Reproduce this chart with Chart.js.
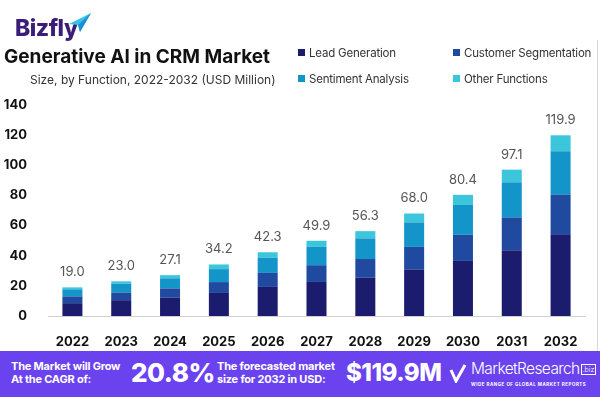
<!DOCTYPE html>
<html>
<head>
<meta charset="utf-8">
<script src="https://cdn.jsdelivr.net/npm/chart.js@4"></script>
<style>
  body { margin: 0; width: 600px; height: 400px; position: relative; overflow: hidden; background: #fff; font-family: Inter, sans-serif; }
  #wrap { position: absolute; left: 0; top: 0; width: 600px; height: 400px; }
  .abs { position: absolute; white-space: nowrap; }
  #logo { left: 15px; top: 14px; font-size: 23px; font-weight: 800; color: #3a1d7a; letter-spacing: -0.5px; }
  #title { left: 4px; top: 45px; font-size: 19px; font-weight: 700; color: #111; letter-spacing: 0px; }
  #sub { left: 30px; top: 72px; font-size: 12px; color: #333; }
  .leg { font-size: 11.5px; color: #333; letter-spacing: -0.2px; }
  .leg i { display: inline-block; width: 7px; height: 7px; margin-right: 4px; vertical-align: 1px; }
  #vline { left: 597px; top: 40px; width: 1px; height: 311px; background: #d6d6d6; }
  #banner { left: 0; top: 351px; width: 600px; height: 46px; background: #6a43ef; color: #fff; }
  .small { font-size: 11px; font-weight: 700; line-height: 13px; letter-spacing: -0.2px; }
  .big { font-weight: 800; letter-spacing: -0.5px; }
</style>
</head>
<body>
<div id="wrap"><canvas id="chart" width="600" height="400"></canvas></div>

<div class="abs" id="logo">Bizfly</div>
<svg class="abs" style="left:68px;top:12px" width="24" height="22" viewBox="0 0 24 22">
  <polygon points="1,12 23,1 12,20 10,13" fill="#35c3e8"/>
  <polygon points="10,13 23,1 12,20" fill="#1d8fd6"/>
</svg>
<div class="abs" id="title">Generative AI in CRM Market</div>
<div class="abs" id="sub">Size, by Function, 2022-2032 (USD Million)</div>

<div class="abs leg" style="left:298px;top:46px"><i style="background:#1b1c6e"></i>Lead Generation</div>
<div class="abs leg" style="left:453px;top:46px"><i style="background:#1f4a9f"></i>Customer Segmentation</div>
<div class="abs leg" style="left:298px;top:72px"><i style="background:#1495c9"></i>Sentiment Analysis</div>
<div class="abs leg" style="left:453px;top:72px"><i style="background:#3cc6dc"></i>Other Functions</div>
<div class="abs" id="vline"></div>

<div class="abs" id="banner">
  <div class="abs small" style="left:11px;top:9px">The Market will Grow<br>At the CAGR of:</div>
  <div class="abs big" style="left:131px;top:6px;font-size:26px">20.8%</div>
  <div class="abs small" style="left:217px;top:9px">The forecasted market<br>size for 2032 in USD:</div>
  <div class="abs big" style="left:346px;top:7px;font-size:24px">$119.9M</div>
  <svg class="abs" style="left:449px;top:12px" width="18" height="20" viewBox="0 0 18 20">
    <polyline points="2,7 7,18 16,2" fill="none" stroke="#fff" stroke-width="3"/>
  </svg>
  <div class="abs" style="left:471px;top:8px;font-size:15.5px;font-weight:300;letter-spacing:-0.6px">MarketResearch<span style="font-size:7px;border:1px solid #fff;padding:0 1px;margin-left:1px;vertical-align:2px;letter-spacing:0">.biz</span></div>
  <div class="abs" style="left:471px;top:31px;font-size:4.5px;font-weight:700;letter-spacing:0.5px">WIDE RANGE OF GLOBAL MARKET REPORTS</div>
</div>

<script>
const years = ["2022", "2023", "2024", "2025", "2026", "2027", "2028", "2029", "2030", "2031", "2032"];
const leadGeneration = [8.5, 10.5, 12.3, 15.3, 19.3, 22.6, 25.4, 30.8, 36.6, 43.7, 54.2];
const customerSegmentation = [4.5, 5.1, 6.0, 7.2, 9.3, 11.1, 12.4, 15.1, 17.3, 21.7, 26.3];
const sentimentAnalysis = [4.7, 5.8, 6.7, 8.6, 10.0, 12.2, 13.7, 16.2, 19.8, 23.3, 28.8];
const otherFunctions = [1.3, 1.6, 2.1, 3.1, 3.7, 4.0, 4.8, 5.9, 6.7, 8.4, 10.6];
const totals = [19.0, 23.0, 27.1, 34.2, 42.3, 49.9, 56.3, 68.0, 80.4, 97.1, 119.9];

const totalLabels = {
  id: "totalLabels",
  afterDatasetsDraw(chart) {
    const ctx = chart.ctx;
    const y = chart.scales.y;
    const x = chart.scales.x;
    ctx.save();
    ctx.font = "13px Inter";
    ctx.fillStyle = "#555";
    ctx.textAlign = "center";
    ctx.textBaseline = "middle";
    totals.forEach((t, i) => {
      ctx.fillText(t.toFixed(1), x.getPixelForValue(i), y.getPixelForValue(t) - 15);
    });
    ctx.restore();
  }
};

const ds = (label, data, color) => ({
  label: label,
  data: data,
  backgroundColor: color,
  barPercentage: 0.82,
  categoryPercentage: 0.5
});

new Chart(document.getElementById("chart").getContext("2d"), {
  type: "bar",
  data: {
    labels: years,
    datasets: [
      ds("Lead Generation", leadGeneration, "#1b1c6e"),
      ds("Customer Segmentation", customerSegmentation, "#1f4a9f"),
      ds("Sentiment Analysis", sentimentAnalysis, "#1495c9"),
      ds("Other Functions", otherFunctions, "#3cc6dc")
    ]
  },
  options: {
    responsive: false,
    animation: false,
    layout: { padding: { left: 0, right: 15, top: 105, bottom: 54 } },
    plugins: { legend: { display: false }, tooltip: { enabled: false } },
    scales: {
      x: {
        stacked: true,
        grid: { display: false },
        border: { display: true, color: "#d0d0d0" },
        ticks: { color: "#111", font: { family: "Inter", size: 13, weight: "bold" }, padding: 10 },
        afterFit: (s) => { s.height = 30; }
      },
      y: {
        stacked: true,
        min: 0,
        max: 140,
        grid: { display: false },
        border: { display: false },
        ticks: { stepSize: 20, color: "#111", font: { family: "Inter", size: 13, weight: "bold" }, padding: 13 },
        afterFit: (s) => { s.width = 48; }
      }
    }
  },
  plugins: [totalLabels]
});
</script>
</body>
</html>
